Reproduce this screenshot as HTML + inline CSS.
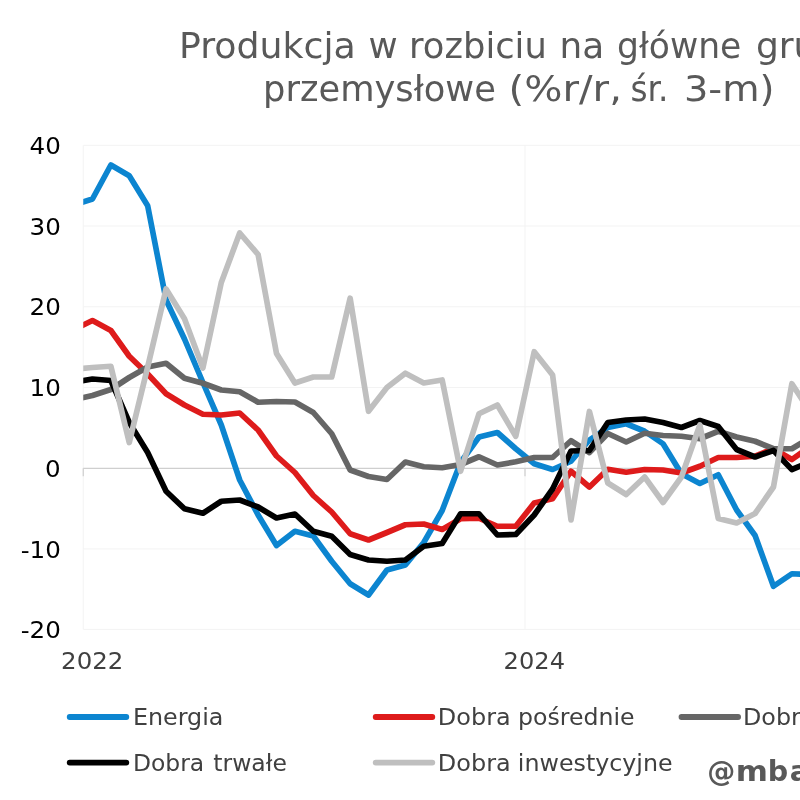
<!DOCTYPE html>
<html lang="pl">
<head>
<meta charset="utf-8">
<title>Produkcja w rozbiciu na główne gru</title>
<style>
html,body{margin:0;padding:0;background:#fff;}
body{width:800px;height:800px;overflow:hidden;position:relative;font-family:"DejaVu Sans","Liberation Sans",sans-serif;}
svg{position:absolute;left:0;top:0;display:block;will-change:transform;}
svg text{font-family:"DejaVu Sans","Liberation Sans",sans-serif;white-space:pre;}
.title{font-size:34.67px;fill:#595959;}
.yl{font-size:22.67px;fill:#000;}
.xl{font-size:22.67px;fill:#404040;}
.lg{font-size:22.67px;fill:#404040;}
.wm{font-size:28px;font-weight:bold;fill:#595959;}
</style>
</head>
<body>
<svg width="800" height="800" viewBox="0 0 800 800">
<defs><clipPath id="plot"><rect x="83.25" y="140" width="720" height="495"/></clipPath></defs>

<g stroke="#f3f3f3" stroke-width="1" fill="none">
<line x1="83.25" y1="145.30" x2="800" y2="145.30"/>
<line x1="83.25" y1="226.00" x2="800" y2="226.00"/>
<line x1="83.25" y1="306.80" x2="800" y2="306.80"/>
<line x1="83.25" y1="387.50" x2="800" y2="387.50"/>
<line x1="83.25" y1="548.90" x2="800" y2="548.90"/>
<line x1="83.25" y1="629.40" x2="800" y2="629.40"/>
<line x1="83.25" y1="145.3" x2="83.25" y2="629.4"/>
<line x1="525.00" y1="145.3" x2="525.00" y2="629.4"/>
</g>
<g stroke="#cfcfcf" stroke-width="1.2" fill="none">
<line x1="83.25" y1="468.3" x2="800" y2="468.3"/>
<line x1="83.25" y1="468.3" x2="83.25" y2="476.3"/>
<line x1="525.00" y1="468.3" x2="525.00" y2="476.3"/>
</g>
<g clip-path="url(#plot)" fill="none" stroke-width="5.7" stroke-linejoin="round" stroke-linecap="round">
<polyline stroke="#0c85d0" points="74.05,205.00 92.45,199.00 110.86,165.00 129.26,175.75 147.67,205.75 166.08,300.00 184.48,339.00 202.89,382.50 221.29,425.00 239.70,480.00 258.11,515.00 276.51,545.50 294.92,531.25 313.32,536.00 331.73,561.25 350.14,583.75 368.54,595.00 386.95,570.00 405.35,565.00 423.76,542.50 442.17,510.50 460.57,462.50 478.98,437.00 497.38,432.50 515.79,448.75 534.20,463.75 552.60,469.50 571.01,461.25 589.41,440.00 607.82,427.50 626.23,423.75 644.63,431.25 663.04,443.75 681.44,473.75 699.85,483.50 718.26,474.75 736.66,510.00 755.07,535.50 773.47,586.25 791.88,573.75 810.29,574.50"/>
<polyline stroke="#de1b1b" points="74.05,329.50 92.45,320.50 110.86,330.50 129.26,356.25 147.67,374.00 166.08,393.75 184.48,405.00 202.89,414.25 221.29,415.00 239.70,413.00 258.11,430.00 276.51,456.00 294.92,472.50 313.32,495.50 331.73,512.00 350.14,533.75 368.54,540.00 386.95,532.50 405.35,524.75 423.76,524.00 442.17,529.50 460.57,518.75 478.98,518.25 497.38,526.25 515.79,526.25 534.20,503.00 552.60,498.75 571.01,471.25 589.41,487.00 607.82,469.25 626.23,472.25 644.63,469.50 663.04,470.00 681.44,473.00 699.85,466.25 718.26,457.50 736.66,457.50 755.07,456.25 773.47,448.75 791.88,459.50 810.29,446.50"/>
<polyline stroke="#666666" points="74.05,399.50 92.45,395.50 110.86,389.50 129.26,377.50 147.67,367.00 166.08,363.25 184.48,378.25 202.89,383.25 221.29,390.00 239.70,391.75 258.11,402.25 276.51,401.50 294.92,402.00 313.32,412.50 331.73,433.75 350.14,470.00 368.54,476.50 386.95,479.50 405.35,462.00 423.76,466.75 442.17,467.75 460.57,464.50 478.98,456.75 497.38,465.00 515.79,461.75 534.20,457.50 552.60,457.50 571.01,440.75 589.41,452.50 607.82,433.50 626.23,442.00 644.63,433.25 663.04,435.50 681.44,436.25 699.85,438.75 718.26,431.25 736.66,437.00 755.07,441.25 773.47,448.75 791.88,448.75 810.29,437.50"/>
<polyline stroke="#000000" points="74.05,382.00 92.45,379.00 110.86,380.50 129.26,422.50 147.67,452.50 166.08,491.25 184.48,508.75 202.89,513.25 221.29,501.25 239.70,500.00 258.11,507.00 276.51,518.00 294.92,514.00 313.32,531.25 331.73,536.25 350.14,554.50 368.54,560.00 386.95,561.25 405.35,560.00 423.76,546.25 442.17,543.50 460.57,513.75 478.98,513.75 497.38,535.00 515.79,534.50 534.20,515.00 552.60,489.00 571.01,451.00 589.41,450.50 607.82,422.50 626.23,420.00 644.63,419.00 663.04,422.50 681.44,427.50 699.85,420.50 718.26,426.50 736.66,449.50 755.07,457.00 773.47,450.50 791.88,469.50 810.29,462.00"/>
<polyline stroke="#bfbfbf" points="74.05,369.00 92.45,367.50 110.86,366.25 129.26,442.50 147.67,367.00 166.08,289.00 184.48,318.75 202.89,368.00 221.29,282.50 239.70,233.00 258.11,254.50 276.51,353.50 294.92,383.00 313.32,377.00 331.73,377.00 350.14,298.25 368.54,411.25 386.95,387.50 405.35,373.25 423.76,383.00 442.17,380.00 460.57,471.25 478.98,413.75 497.38,405.00 515.79,436.25 534.20,351.75 552.60,375.00 571.01,520.00 589.41,411.50 607.82,483.00 626.23,494.50 644.63,477.00 663.04,502.50 681.44,477.00 699.85,425.00 718.26,518.50 736.66,523.00 755.07,513.50 773.47,487.00 791.88,383.75 810.29,412.00"/>
</g>
<text class="yl" y="153.90"><tspan x="29.63" textLength="31.30" lengthAdjust="spacingAndGlyphs">40</tspan></text>
<text class="yl" y="234.60"><tspan x="29.63" textLength="31.30" lengthAdjust="spacingAndGlyphs">30</tspan></text>
<text class="yl" y="315.40"><tspan x="29.63" textLength="31.30" lengthAdjust="spacingAndGlyphs">20</tspan></text>
<text class="yl" y="396.10"><tspan x="29.63" textLength="31.30" lengthAdjust="spacingAndGlyphs">10</tspan></text>
<text class="yl" y="476.90"><tspan x="45.09" textLength="15.65" lengthAdjust="spacingAndGlyphs">0</tspan></text>
<text class="yl" y="557.50"><tspan x="20.68" textLength="40.16" lengthAdjust="spacingAndGlyphs">-10</tspan></text>
<text class="yl" y="638.00"><tspan x="20.68" textLength="40.16" lengthAdjust="spacingAndGlyphs">-20</tspan></text>
<text class="xl" y="669.3"><tspan x="61.11" textLength="62.23" lengthAdjust="spacingAndGlyphs">2022</tspan></text>
<text class="xl" y="669.3"><tspan x="503.64" textLength="61.36" lengthAdjust="spacingAndGlyphs">2024</tspan></text>
<text class="title" y="57.6"><tspan x="178.94" textLength="176.80" lengthAdjust="spacingAndGlyphs">Produkcja</tspan> <tspan x="368.46" textLength="29.20" lengthAdjust="spacingAndGlyphs">w</tspan> <tspan x="409.09" textLength="137.73" lengthAdjust="spacingAndGlyphs">rozbiciu</tspan> <tspan x="559.64" textLength="44.67" lengthAdjust="spacingAndGlyphs">na</tspan> <tspan x="617.01" textLength="124.33" lengthAdjust="spacingAndGlyphs">główne</tspan> <tspan x="755.92" textLength="60.55" lengthAdjust="spacingAndGlyphs">gru</tspan></text>
<text class="title" y="100.5"><tspan x="263.09" textLength="232.75" lengthAdjust="spacingAndGlyphs">przemysłowe</tspan> <tspan x="508.52" textLength="113.42" lengthAdjust="spacingAndGlyphs">(%r/r,</tspan> <tspan x="630.51" textLength="37.93" lengthAdjust="spacingAndGlyphs">śr.</tspan> <tspan x="683.96" textLength="90.46" lengthAdjust="spacingAndGlyphs">3-m)</tspan></text>
<line x1="69.7" y1="717.0" x2="126.3" y2="717.0" stroke="#0c85d0" stroke-width="5.8" stroke-linecap="round"/>
<text class="lg" y="724.9"><tspan x="132.94" textLength="90.46" lengthAdjust="spacingAndGlyphs">Energia</tspan></text>
<line x1="375.7" y1="717.0" x2="432.3" y2="717.0" stroke="#de1b1b" stroke-width="5.8" stroke-linecap="round"/>
<text class="lg" y="724.9"><tspan x="437.87" textLength="72.79" lengthAdjust="spacingAndGlyphs">Dobra</tspan> <tspan x="518.12" textLength="116.52" lengthAdjust="spacingAndGlyphs">pośrednie</tspan></text>
<line x1="681.5" y1="717.0" x2="738.1" y2="717.0" stroke="#666666" stroke-width="5.8" stroke-linecap="round"/>
<text class="lg" y="724.9"><tspan x="743.04" textLength="57.77" lengthAdjust="spacingAndGlyphs">Dobr</tspan></text>
<line x1="69.7" y1="762.6" x2="126.3" y2="762.6" stroke="#000000" stroke-width="5.8" stroke-linecap="round"/>
<text class="lg" y="770.5"><tspan x="132.97" textLength="71.24" lengthAdjust="spacingAndGlyphs">Dobra</tspan> <tspan x="213.28" textLength="73.61" lengthAdjust="spacingAndGlyphs">trwałe</tspan></text>
<line x1="375.7" y1="762.6" x2="432.3" y2="762.6" stroke="#bfbfbf" stroke-width="5.8" stroke-linecap="round"/>
<text class="lg" y="770.5"><tspan x="437.87" textLength="72.79" lengthAdjust="spacingAndGlyphs">Dobra</tspan> <tspan x="517.84" textLength="154.80" lengthAdjust="spacingAndGlyphs">inwestycyjne</tspan></text>
<text class="wm" y="781.3"><tspan x="707.20" textLength="28.06" lengthAdjust="spacingAndGlyphs">@</tspan><tspan x="735.72" textLength="32.19" lengthAdjust="spacingAndGlyphs">m</tspan><tspan x="767.71" textLength="20.41" lengthAdjust="spacingAndGlyphs">b</tspan><tspan x="789.70" textLength="19.66" lengthAdjust="spacingAndGlyphs">a</tspan></text>
</svg>
</body>
</html>
